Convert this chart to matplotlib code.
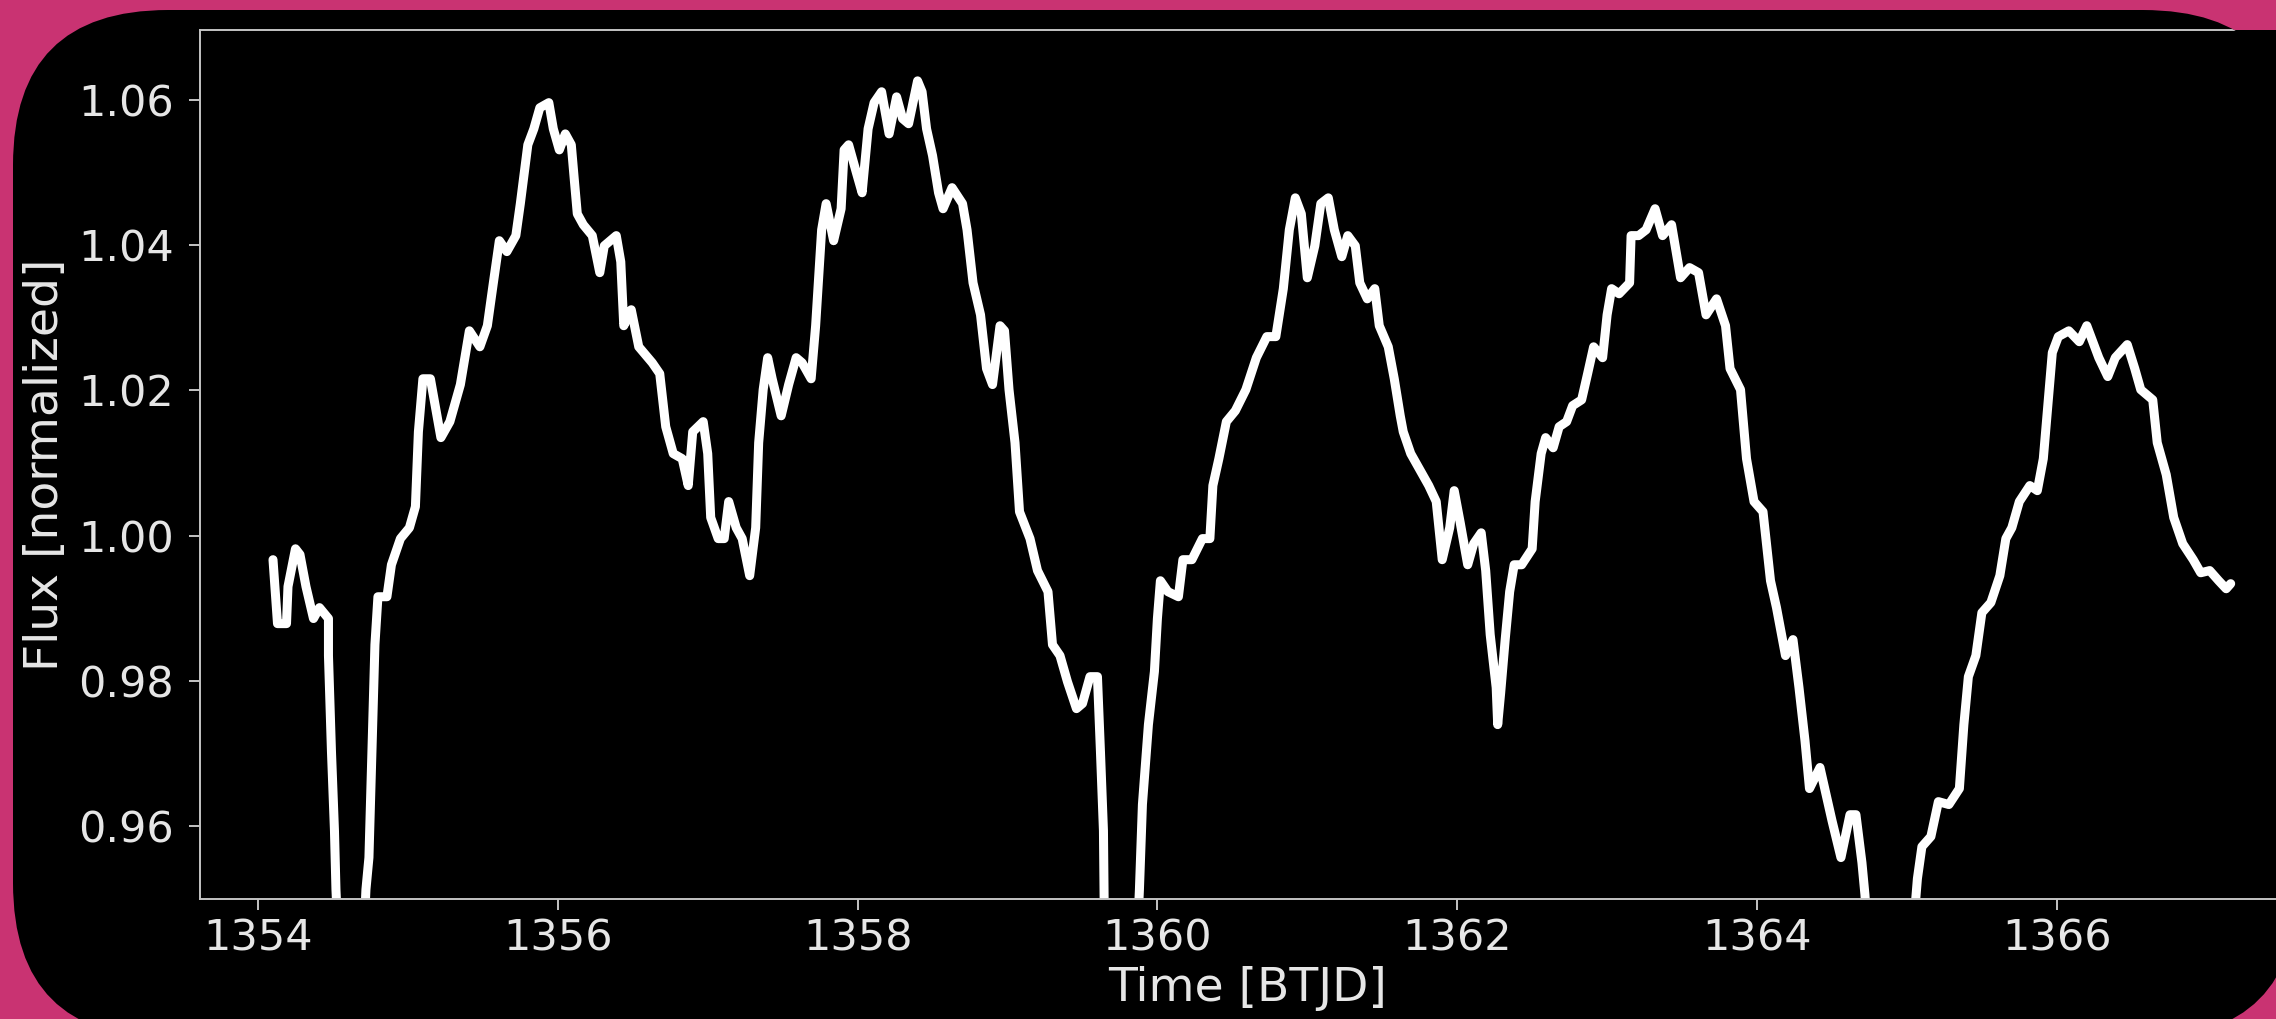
import matplotlib
matplotlib.use("Agg")
import matplotlib.pyplot as plt
import numpy as np
from matplotlib.patches import FancyBboxPatch
from matplotlib.transforms import IdentityTransform

# light curve, split at the gaps below the plot
t1 = [1354.10, 1354.13, 1354.19, 1354.20, 1354.25, 1354.28, 1354.32, 1354.37, 1354.41, 1354.47,
      1354.47, 1354.49, 1354.51, 1354.52, 1354.525]
f1 = [0.9967, 0.9879, 0.9879, 0.9930, 0.9982, 0.9974, 0.9930, 0.9886, 0.9901, 0.9886,
      0.9835, 0.9703, 0.9594, 0.9513, 0.949]

t2 = [1354.715, 1354.72, 1354.74, 1354.76, 1354.78, 1354.80, 1354.86, 1354.89, 1354.95, 1355.01,
      1355.05, 1355.07, 1355.10, 1355.15, 1355.22, 1355.28, 1355.35, 1355.41, 1355.48, 1355.53,
      1355.57, 1355.61, 1355.66, 1355.72, 1355.75, 1355.80, 1355.84, 1355.88, 1355.94, 1355.97,
      1356.01, 1356.05, 1356.09, 1356.11, 1356.13, 1356.17, 1356.23, 1356.28, 1356.31, 1356.39,
      1356.42, 1356.44, 1356.49, 1356.54, 1356.63, 1356.68, 1356.72, 1356.77, 1356.83, 1356.87,
      1356.90, 1356.97, 1357.00, 1357.02, 1357.07, 1357.11, 1357.14, 1357.19, 1357.23, 1357.28,
      1357.32, 1357.34, 1357.37, 1357.40, 1357.43, 1357.49, 1357.54, 1357.59, 1357.63, 1357.69,
      1357.72, 1357.74, 1357.76, 1357.79, 1357.84, 1357.89, 1357.91, 1357.94, 1357.99, 1358.03,
      1358.07, 1358.11, 1358.16, 1358.21, 1358.26, 1358.30, 1358.34, 1358.40, 1358.43, 1358.46,
      1358.50, 1358.54, 1358.57, 1358.63, 1358.70, 1358.73, 1358.77, 1358.82, 1358.86, 1358.90,
      1358.95, 1358.98, 1359.01, 1359.05, 1359.08, 1359.15, 1359.20, 1359.27, 1359.30, 1359.35,
      1359.40, 1359.46, 1359.50, 1359.55, 1359.60, 1359.62, 1359.64, 1359.645]
f2 = [0.949, 0.9513, 0.9557, 0.9703, 0.9850, 0.9916, 0.9916, 0.9960, 0.9996, 1.0011,
      1.0040, 1.0143, 1.0216, 1.0216, 1.0135, 1.0157, 1.0208, 1.0282, 1.0260, 1.0289,
      1.0348, 1.0406, 1.0391, 1.0413, 1.0457, 1.0538, 1.0560, 1.0589, 1.0596, 1.0560,
      1.0531, 1.0553, 1.0538, 1.0490, 1.0443, 1.0428, 1.0413, 1.0362, 1.0399, 1.0413,
      1.0377, 1.0289, 1.0311, 1.0260, 1.0238, 1.0223, 1.0150, 1.0113, 1.0106, 1.0069,
      1.0143, 1.0157, 1.0113, 1.0025, 0.9996, 0.9996, 1.0047, 1.0011, 0.9996, 0.9945,
      1.0011, 1.0128, 1.0201, 1.0245, 1.0216, 1.0165, 1.0208, 1.0245, 1.0238, 1.0216,
      1.0289, 1.0355, 1.0421, 1.0457, 1.0406, 1.0450, 1.0531, 1.0538, 1.0501, 1.0472,
      1.0560, 1.0596, 1.0611, 1.0553, 1.0604, 1.0574, 1.0567, 1.0626, 1.0611, 1.0560,
      1.0523, 1.0472, 1.0450, 1.0479, 1.0457, 1.0421, 1.0348, 1.0304, 1.0230, 1.0208,
      1.0289, 1.0282, 1.0201, 1.0128, 1.0033, 0.9996, 0.9952, 0.9923, 0.9850, 0.9835,
      0.9799, 0.9762, 0.9769, 0.9806, 0.9806, 0.9703, 0.9594, 0.949]

t3 = [1359.875, 1359.88, 1359.90, 1359.94, 1359.98, 1360.00, 1360.02, 1360.07, 1360.14, 1360.17,
      1360.23, 1360.30, 1360.35, 1360.37, 1360.41, 1360.46, 1360.52, 1360.59, 1360.66, 1360.73,
      1360.79, 1360.84, 1360.88, 1360.92, 1360.96, 1361.00, 1361.05, 1361.09, 1361.14, 1361.18,
      1361.23, 1361.27, 1361.32, 1361.35, 1361.40, 1361.45, 1361.48, 1361.54, 1361.58, 1361.62,
      1361.64, 1361.69, 1361.75, 1361.81, 1361.86, 1361.90, 1361.95, 1361.98, 1362.02, 1362.07,
      1362.11, 1362.16, 1362.19, 1362.22, 1362.26, 1362.27, 1362.29, 1362.32, 1362.35, 1362.38,
      1362.43, 1362.50, 1362.52, 1362.56, 1362.59, 1362.64, 1362.68, 1362.73, 1362.77, 1362.83,
      1362.87, 1362.91, 1362.97, 1363.00, 1363.03, 1363.08, 1363.15, 1363.16, 1363.21, 1363.26,
      1363.32, 1363.37, 1363.43, 1363.49, 1363.55, 1363.61, 1363.66, 1363.73, 1363.79, 1363.82,
      1363.89, 1363.93, 1363.98, 1364.04, 1364.09, 1364.13, 1364.19, 1364.24, 1364.28, 1364.32,
      1364.35, 1364.42, 1364.50, 1364.56, 1364.62, 1364.66, 1364.70, 1364.72, 1364.725]
f3 = [0.949, 0.9513, 0.9630, 0.9740, 0.9813, 0.9886, 0.9938, 0.9923, 0.9916, 0.9967,
      0.9967, 0.9996, 0.9996, 1.0069, 1.0106, 1.0157, 1.0172, 1.0201, 1.0245, 1.0274,
      1.0274, 1.0340, 1.0421, 1.0465, 1.0443, 1.0355, 1.0399, 1.0457, 1.0465, 1.0421,
      1.0384, 1.0413, 1.0399, 1.0348, 1.0326, 1.0340, 1.0289, 1.0260, 1.0216, 1.0165,
      1.0143, 1.0113, 1.0091, 1.0069, 1.0047, 0.9967, 1.0011, 1.0062, 1.0018, 0.9960,
      0.9989, 1.0004, 0.9952, 0.9864, 0.9791, 0.9740, 0.9784, 0.9857, 0.9923, 0.9960,
      0.9960, 0.9982, 1.0047, 1.0113, 1.0135, 1.0121, 1.0150, 1.0157, 1.0179, 1.0187,
      1.0223, 1.0260, 1.0245, 1.0304, 1.0340, 1.0333, 1.0348, 1.0413, 1.0413, 1.0421,
      1.0450, 1.0413, 1.0428, 1.0355, 1.0369, 1.0362, 1.0304, 1.0326, 1.0289, 1.0230,
      1.0201, 1.0106, 1.0047, 1.0033, 0.9938, 0.9901, 0.9835, 0.9857, 0.9791, 0.9718,
      0.9652, 0.9681, 0.9608, 0.9557, 0.9616, 0.9616, 0.9550, 0.9506, 0.949]

t4 = [1365.055, 1365.07, 1365.10, 1365.16, 1365.21, 1365.28, 1365.35, 1365.38, 1365.41, 1365.46,
      1365.50, 1365.56, 1365.62, 1365.66, 1365.70, 1365.75, 1365.82, 1365.87, 1365.91, 1365.94,
      1365.97, 1366.01, 1366.08, 1366.15, 1366.20, 1366.24, 1366.28, 1366.34, 1366.39, 1366.47,
      1366.52, 1366.56, 1366.64, 1366.67, 1366.73, 1366.78, 1366.84, 1366.91, 1366.96, 1367.02,
      1367.08, 1367.13, 1367.16]
f4 = [0.949, 0.9528, 0.9572, 0.9586, 0.9634, 0.9630, 0.9652, 0.9740, 0.9806, 0.9835,
      0.9894, 0.9908, 0.9945, 0.9996, 1.0011, 1.0047, 1.0069, 1.0062, 1.0106, 1.0179,
      1.0252, 1.0274, 1.0282, 1.0267, 1.0289, 1.0267, 1.0245, 1.0219, 1.0245, 1.0263,
      1.0230, 1.0201, 1.0187, 1.0128, 1.0084, 1.0025, 0.9989, 0.9967, 0.9949, 0.9952,
      0.9938, 0.9927, 0.9934]

xticks = [1354, 1356, 1358, 1360, 1362, 1364, 1366]
yticks = [0.96, 0.98, 1.00, 1.02, 1.04, 1.06]

W, H = 2276, 1019
fig = plt.figure(figsize=(W / 100, H / 100), dpi=100, facecolor='#c93372')

# black rounded card behind the plot (pixel coords)
card = FancyBboxPatch((13, -19), 2285, 1028, boxstyle='round,pad=0,rounding_size=155',
                      transform=IdentityTransform(), facecolor='black', edgecolor='none',
                      zorder=-1)
fig.add_artist(card)

ax = fig.add_axes([200 / W, 120 / H, 2095 / W, 869 / H])
ax.set_facecolor('black')

for t, f in [(t1, f1), (t2, f2), (t3, f3), (t4, f4)]:
    ax.plot(t, f, color='white', lw=6.5, solid_joinstyle='round', solid_capstyle='round')

ax.set_xlim(1353.613, 1367.589)
ax.set_ylim(0.95, 1.0696)
ax.set_xticks(xticks, [str(v) for v in xticks])
ax.set_yticks(yticks, ['%.2f' % v for v in yticks])

for s in ax.spines.values():
    s.set_color('#c4c4c4')
    s.set_linewidth(1.4)
    s.set_clip_path(card)

ax.tick_params(axis='both', colors='#c4c4c4', labelcolor='#e6e6e6', length=8, width=1.4,
               labelsize=31)
ax.tick_params(axis='x', pad=5)
ax.tick_params(axis='y', pad=11)

ax.set_xlabel('Time [BTJD]', fontsize=34, color='#e6e6e6', labelpad=5)
ax.set_ylabel('Flux [normalized]', fontsize=34, color='#e6e6e6', labelpad=7)

fig.savefig('out.png', dpi=100, facecolor=fig.get_facecolor())
